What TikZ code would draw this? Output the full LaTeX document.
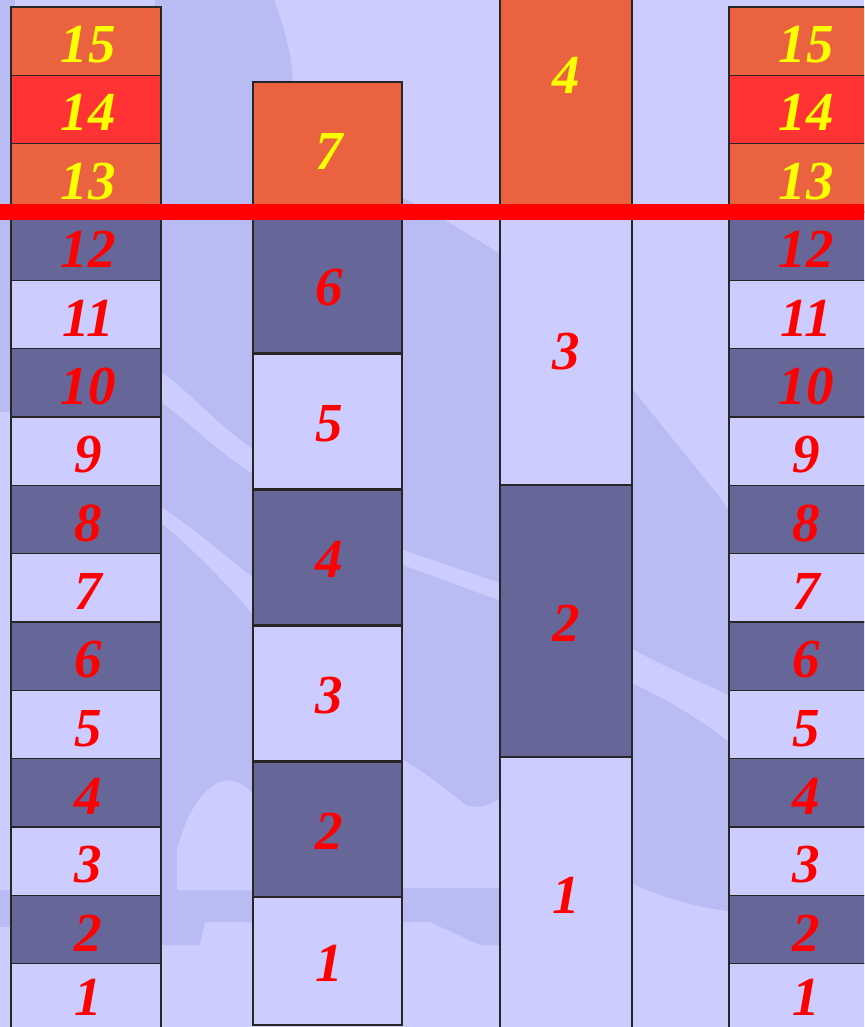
\documentclass[tikz,border=0pt]{standalone}
\usepackage{fontspec}
\setmainfont{Liberation Serif}
\definecolor{bglight}{HTML}{CCCCFF}
\definecolor{bgdark}{HTML}{B8BCF2}
\definecolor{boxlite}{HTML}{CCCCFF}
\definecolor{boxdark}{HTML}{666699}
\definecolor{boxhot}{HTML}{EA6240}
\definecolor{boxhotter}{HTML}{FF3333}
\definecolor{txtred}{HTML}{FF0000}
\definecolor{txtyel}{HTML}{FFFF00}
\definecolor{barred}{HTML}{FF0000}
\tikzset{
  blk/.style={draw=black!85, line width=1.1pt, inner sep=0pt},
  lbl/.style={inner sep=0pt, font=\fontsize{55}{55}\selectfont\bfseries\itshape,
    text height=37pt, text depth=0pt, xshift=2pt, yshift=-1.5pt},
}
\begin{document}
\begin{tikzpicture}[x=1pt,y=-1pt]
\useasboundingbox (0,0) rectangle (864,1027);
\clip (0,0) rectangle (864,1027);
% background
\fill[bglight] (0,0) rectangle (864,1027);
% left strip
\fill[bgdark] (0,0) rectangle (15,412);
\fill[bgdark] (0,890) rectangle (15,927);
% gap A
\fill[bgdark] (155,0) -- (274,0) .. controls (285,30) and (292,55) .. (293,85)
  -- (260,85) -- (260,922) -- (205,922) -- (200,945) -- (155,945) -- cycle;
\fill[bglight] (155,368) .. controls (190,390) and (220,430) .. (260,453)
  -- (260,478) .. controls (220,455) and (190,422) .. (155,398) -- cycle;
\fill[bglight] (155,503) .. controls (190,525) and (230,560) .. (260,583)
  -- (260,623) .. controls (235,592) and (190,545) .. (155,518) -- cycle;
\fill[bglight] (177,890) -- (177,850) .. controls (185,815) and (205,782) .. (228,780)
  .. controls (240,781) and (250,790) .. (260,800) -- (260,890) -- cycle;
% gap B
\fill[bgdark] (395,194) .. controls (430,210) and (470,235) .. (505,257)
  -- (505,792) .. controls (495,806) and (480,808) .. (468,806)
  .. controls (445,790) and (425,770) .. (395,756) -- cycle;
\fill[bglight] (395,547) .. controls (430,560) and (470,572) .. (505,585)
  -- (505,602) .. controls (470,590) and (430,575) .. (395,562) -- cycle;
\fill[bgdark] (395,888) -- (505,888) -- (505,945) -- (480,945) -- (430,922) -- (395,922) -- cycle;
% gap C
\fill[bgdark] (625,380) -- (722,500) -- (735,520) -- (735,912)
  .. controls (700,908) and (660,898) .. (625,880) -- cycle;
\fill[bglight] (625,645) .. controls (660,665) and (700,682) .. (735,698)
  -- (735,747) .. controls (700,718) and (660,695) .. (625,680) -- cycle;
% column 1 and column 4
\foreach \k in {1,...,15}{
  \pgfmathsetmacro\cy{7+(15-\k)*68.333+34.167}
  \ifnum\k>12
    \def\fc{boxhot}\def\tc{txtyel}%
    \ifnum\k=14 \def\fc{boxhotter}\fi
  \else
    \ifodd\k \def\fc{boxlite}\else \def\fc{boxdark}\fi
    \def\tc{txtred}%
  \fi
  \ifnum\k=1 \def\ys{2pt}\else \def\ys{-1.5pt}\fi
  \node[blk, fill=\fc, minimum width=150pt, minimum height=68.333pt] (a\k) at (86,\cy) {};
  \node[lbl, text=\tc, yshift=\ys] (la\k) at (a\k.center) {\k};
  \node[blk, fill=\fc, minimum width=150pt, minimum height=68.333pt] (d\k) at (804,\cy) {};
  \node[lbl, text=\tc, yshift=\ys] (ld\k) at (d\k.center) {\k};
}
% column 2
\node[blk, fill=boxlite, minimum width=149pt, minimum height=128pt] (b1) at (327.5,961) {};
\node[blk, fill=boxdark, minimum width=149pt, minimum height=135pt] (b2) at (327.5,829.5) {};
\node[blk, fill=boxlite, minimum width=149pt, minimum height=135pt] (b3) at (327.5,693.5) {};
\node[blk, fill=boxdark, minimum width=149pt, minimum height=135pt] (b4) at (327.5,557.5) {};
\node[blk, fill=boxlite, minimum width=149pt, minimum height=135pt] (b5) at (327.5,421.5) {};
\node[blk, fill=boxdark, minimum width=149pt, minimum height=135pt] (b6) at (327.5,285.5) {};
\node[blk, fill=boxhot, minimum width=149pt, minimum height=135pt] (b7) at (327.5,149.5) {};
\foreach \k in {1,...,6}{ \node[lbl, text=txtred] (lb\k) at (b\k.center) {\k}; }
\node[lbl, text=txtyel] (lb7) at (b7.center) {7};
% column 3
\node[blk, fill=boxlite, minimum width=132pt, minimum height=272pt] (c1) at (566,893) {};
\node[blk, fill=boxdark, minimum width=132pt, minimum height=272pt] (c2) at (566,621) {};
\node[blk, fill=boxlite, minimum width=132pt, minimum height=272pt] (c3) at (566,349) {};
\node[blk, fill=boxhot, minimum width=132pt, minimum height=272pt] (c4) at (566,74) {};
\foreach \k in {1,2,3}{ \node[lbl, text=txtred, xshift=-2pt] (lc\k) at (c\k.center) {\k}; }
\node[lbl, text=txtyel, xshift=-2pt] (lc4) at (c4.center) {4};
% red bar
\coordinate (barL) at (0,212);
\coordinate (barR) at (864,212);
\draw[barred, line width=16pt] (barL) -- (barR);
\end{tikzpicture}
\end{document}
